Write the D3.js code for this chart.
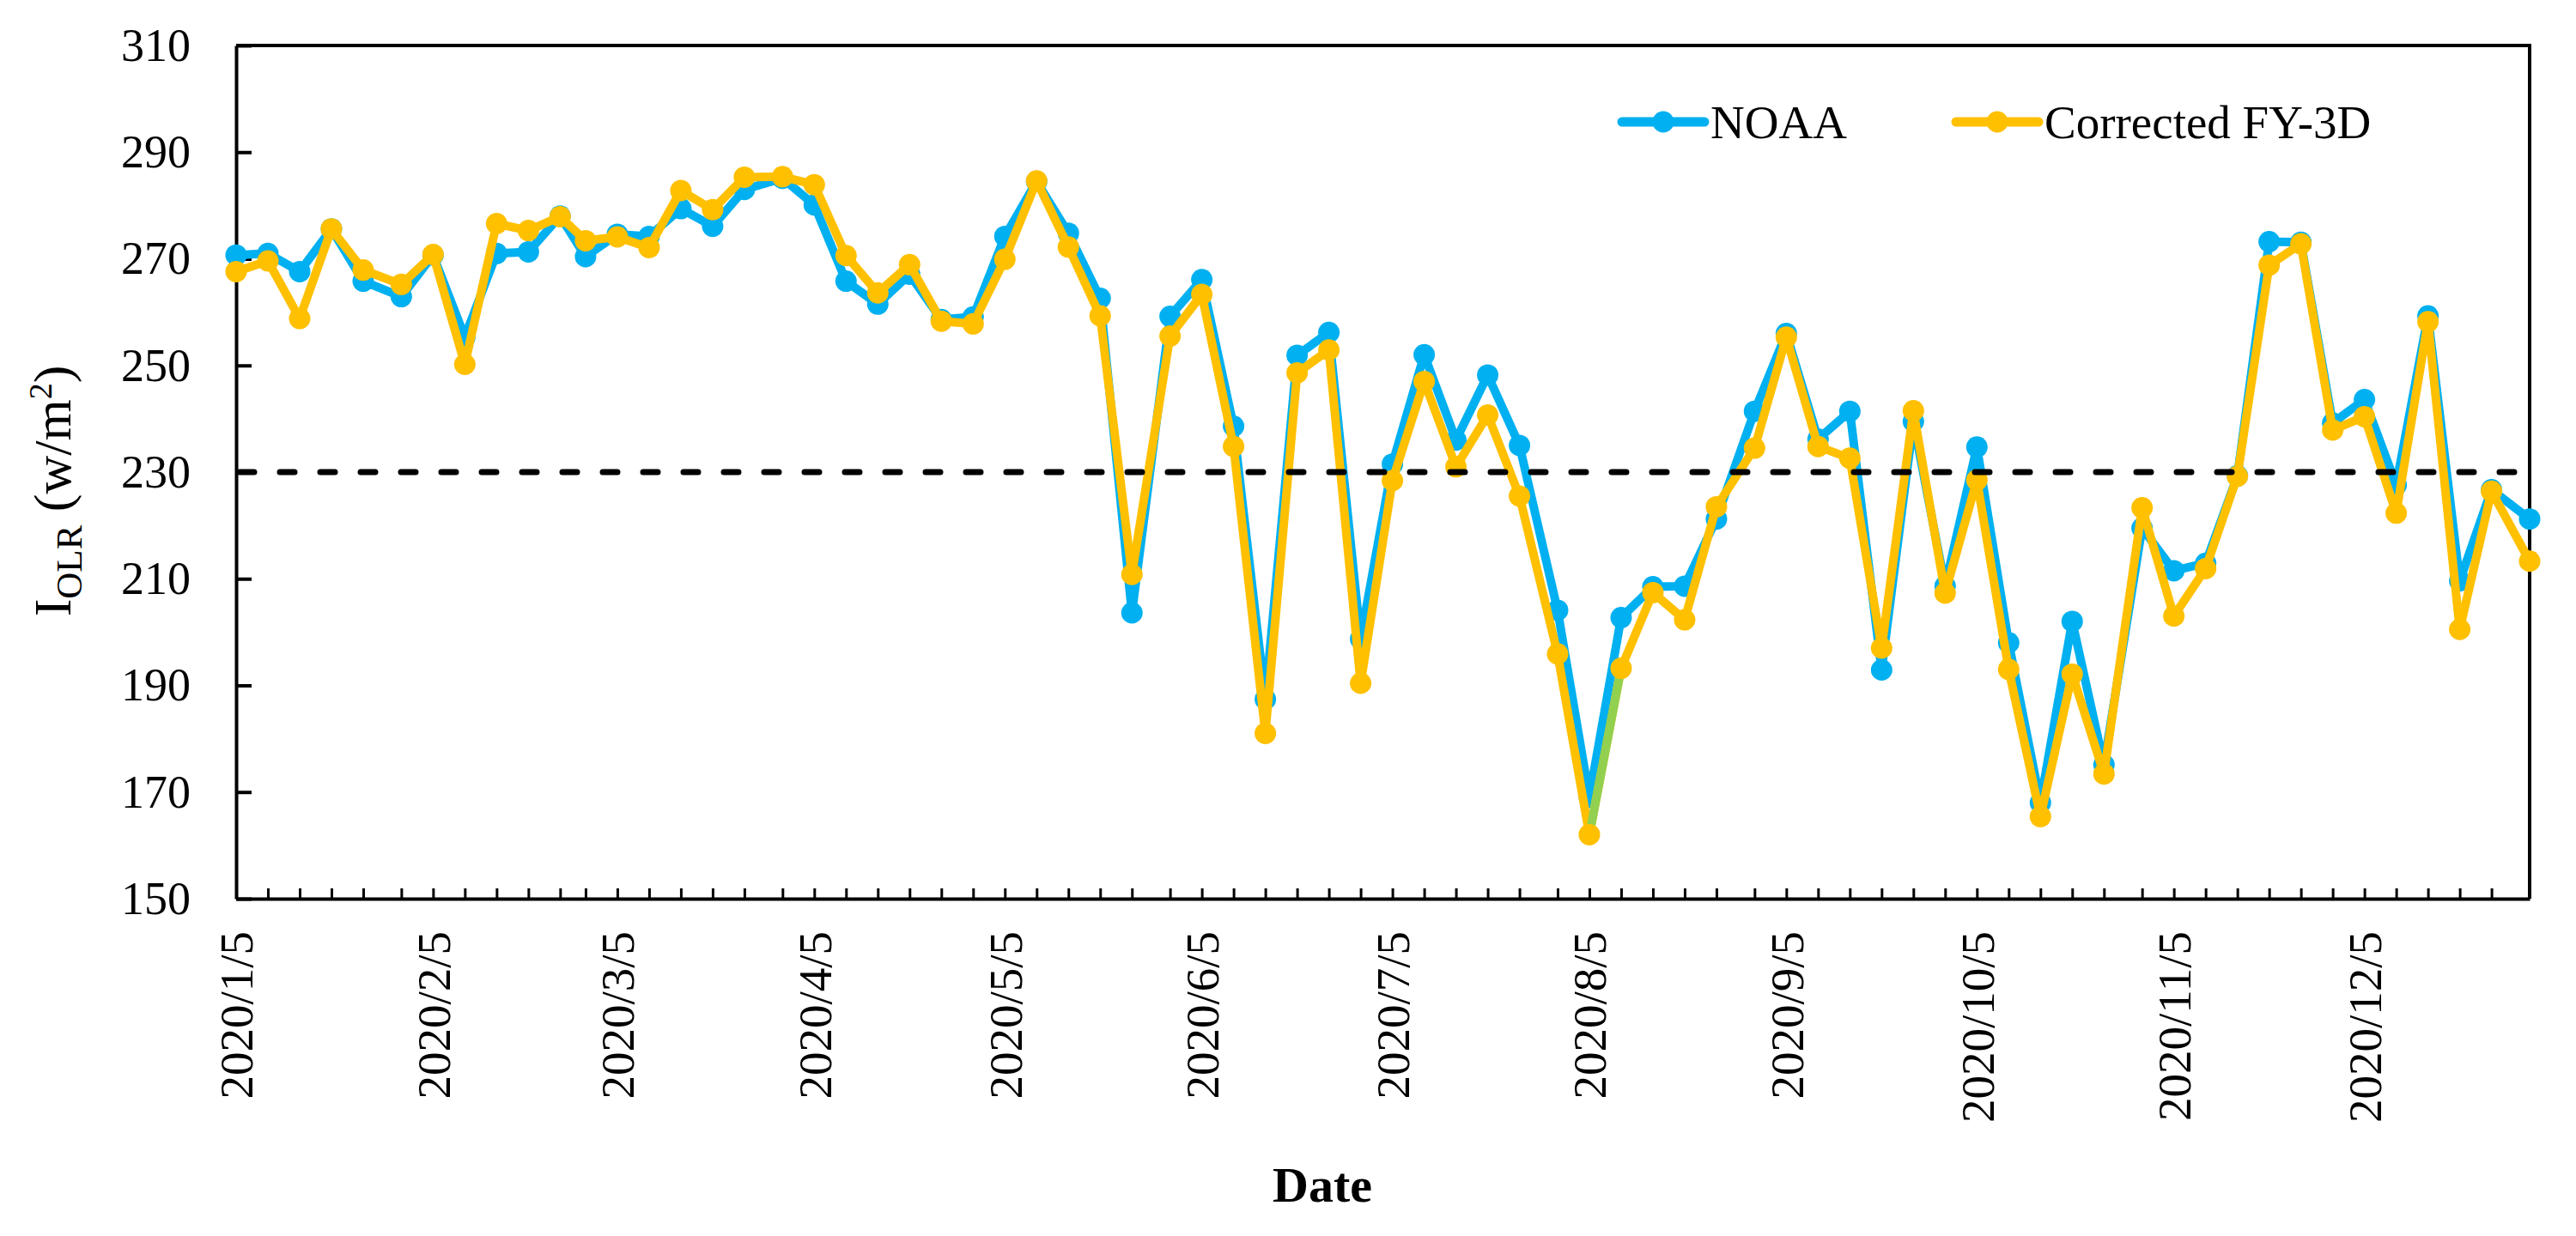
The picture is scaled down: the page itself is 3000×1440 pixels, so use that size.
<!DOCTYPE html>
<html>
<head>
<meta charset="utf-8">
<script src="https://cdn.jsdelivr.net/npm/d3@7"></script>
<style>
  body { margin: 0; background: #fff; }
  svg { display: block; font-family: "Liberation Serif", "Times New Roman", serif; }
</style>
</head>
<body>
<svg id="chart" width="3000" height="1440"></svg>
<script>
// pentad dates (6 per month)
const dates = [
  "2020/1/5","2020/1/10","2020/1/15","2020/1/20","2020/1/25","2020/1/31",
  "2020/2/5","2020/2/10","2020/2/15","2020/2/20","2020/2/25","2020/2/29",
  "2020/3/5","2020/3/10","2020/3/15","2020/3/20","2020/3/25","2020/3/31",
  "2020/4/5","2020/4/10","2020/4/15","2020/4/20","2020/4/25","2020/4/30",
  "2020/5/5","2020/5/10","2020/5/15","2020/5/20","2020/5/25","2020/5/31",
  "2020/6/5","2020/6/10","2020/6/15","2020/6/20","2020/6/25","2020/6/30",
  "2020/7/5","2020/7/10","2020/7/15","2020/7/20","2020/7/25","2020/7/31",
  "2020/8/5","2020/8/10","2020/8/15","2020/8/20","2020/8/25","2020/8/31",
  "2020/9/5","2020/9/10","2020/9/15","2020/9/20","2020/9/25","2020/9/30",
  "2020/10/5","2020/10/10","2020/10/15","2020/10/20","2020/10/25","2020/10/31",
  "2020/11/5","2020/11/10","2020/11/15","2020/11/20","2020/11/25","2020/11/30",
  "2020/12/5","2020/12/10","2020/12/15","2020/12/20","2020/12/25","2020/12/31"
];

const noaa = [
  270.7, 271.0, 267.6, 275.6, 265.8, 262.9, 270.7, 255.3, 271.0, 271.3, 278.0, 270.4,
  274.6, 274.2, 279.4, 276.1, 283.0, 285.1, 280.1, 265.8, 261.5, 267.1, 258.6, 259.1,
  274.2, 284.5, 274.8, 262.6, 203.6, 259.2, 266.1, 238.6, 187.4, 251.9, 256.2, 198.7,
  231.5, 252.0, 236.0, 248.2, 235.0, 204.1, 169.0, 202.7, 208.5, 208.6, 221.2, 241.4,
  256.0, 236.2, 241.4, 192.9, 239.5, 208.6, 234.7, 198.0, 168.0, 202.0, 175.1, 219.5,
  211.5, 212.9, 229.3, 273.2, 273.1, 239.2, 243.6, 227.6, 259.3, 209.6, 226.7, 221.2
];

const fy3d = [
  267.6, 269.6, 258.8, 275.6, 267.9, 265.2, 270.8, 250.2, 276.6, 275.3, 277.9, 273.4,
  274.1, 272.1, 282.8, 279.2, 285.3, 285.4, 283.9, 270.6, 263.6, 268.9, 258.3, 257.8,
  269.9, 284.6, 272.2, 259.3, 210.8, 255.5, 263.3, 234.8, 181.0, 248.6, 252.9, 190.4,
  228.4, 247.0, 231.0, 240.7, 225.5, 195.9, 162.0, 193.2, 207.4, 202.3, 223.5, 234.5,
  255.3, 234.8, 232.6, 197.0, 241.5, 207.3, 228.5, 193.0, 165.4, 192.1, 173.4, 223.3,
  203.0, 211.9, 229.2, 268.8, 272.8, 237.9, 240.4, 222.3, 258.2, 200.5, 226.4, 213.3
];

const xTickLabels = [
  "2020/1/5","2020/2/5","2020/3/5","2020/4/5","2020/5/5","2020/6/5",
  "2020/7/5","2020/8/5","2020/9/5","2020/10/5","2020/11/5","2020/12/5"
];
const yTicks = [150, 170, 190, 210, 230, 250, 270, 290, 310];
const threshold = 230;
const seriesNames = ["NOAA", "Corrected FY-3D"];
const seriesColors = ["#00B0F0", "#FFC000"];

const parse = d3.timeParse("%Y/%m/%d");
const fmt = d3.timeFormat("%Y/%-m/%-d");

const plotLeft = 275, plotRight = 2946, plotTop = 53, plotBottom = 1047;

const svg = d3.select('#chart');

const x = d3.scaleTime()
    .domain([parse(dates[0]), parse(dates[dates.length - 1])])
    .range([plotLeft, plotRight]);

const y = d3.scaleLinear()
    .domain([150, 310])
    .range([plotBottom, plotTop]);

const rows = dates.map((d, i) => ({ date: parse(d), noaa: noaa[i], fy: fy3d[i] }));

// frame (top + right)
svg.append('path')
    .attr('d', `M${plotLeft},${plotTop}H${plotRight}V${plotBottom}`)
    .attr('fill', 'none')
    .attr('stroke', '#000')
    .attr('stroke-width', 4);

// y axis
let yAxis = svg.append('g')
    .attr('transform', `translate(${plotLeft},0)`)
    .call(d3.axisLeft(y).tickValues(yTicks).tickSizeInner(-18).tickSizeOuter(0).tickPadding(53));
yAxis.select('.domain').attr('stroke-width', 4);
yAxis.selectAll('.tick line').attr('stroke-width', 4);
yAxis.selectAll('text')
    .attr('font-size', 54)
    .attr('font-family', '"Liberation Serif", serif')
    .attr('fill', '#000');

// x axis: small ticks at each pentad
let xAxis = svg.append('g')
    .attr('transform', `translate(0,${plotBottom})`)
    .call(d3.axisBottom(x).tickValues(rows.map(d => d.date)).tickSizeInner(-12).tickSizeOuter(0).tickFormat(''));
xAxis.select('.domain').attr('stroke-width', 4);
xAxis.selectAll('.tick line').attr('stroke-width', 3);

// x tick labels, rotated
svg.append('g')
    .selectAll('text')
    .data(xTickLabels)
    .enter()
    .append('text')
    .attr('transform', (d) => `translate(${x(parse(d))},${plotBottom + 38}) rotate(-90)`)
    .attr('dy', '0.35em')
    .attr('text-anchor', 'end')
    .attr('font-size', 55)
    .text((d) => fmt(parse(d)));

// series
const lineNoaa = d3.line().x(d => x(d.date)).y(d => y(d.noaa));
const lineFy = d3.line().x(d => x(d.date)).y(d => y(d.fy));

svg.append('path')
    .datum(rows)
    .attr('d', lineNoaa)
    .attr('fill', 'none')
    .attr('stroke', seriesColors[0])
    .attr('stroke-width', 10)
    .attr('stroke-linejoin', 'round');

svg.append('g')
    .selectAll('circle')
    .data(rows)
    .enter()
    .append('circle')
    .attr('cx', d => x(d.date))
    .attr('cy', d => y(d.noaa))
    .attr('r', 12.5)
    .attr('fill', seriesColors[0]);

svg.append('path')
    .datum(rows)
    .attr('d', lineFy)
    .attr('fill', 'none')
    .attr('stroke', seriesColors[1])
    .attr('stroke-width', 10)
    .attr('stroke-linejoin', 'round');

// one segment drawn green in the original figure (8/5 - 8/10)
svg.append('path')
    .datum(rows.slice(42, 44))
    .attr('d', lineFy)
    .attr('fill', 'none')
    .attr('stroke', '#92D050')
    .attr('stroke-width', 10);

svg.append('g')
    .selectAll('circle')
    .data(rows)
    .enter()
    .append('circle')
    .attr('cx', d => x(d.date))
    .attr('cy', d => y(d.fy))
    .attr('r', 12.5)
    .attr('fill', seriesColors[1]);

// threshold line
svg.append('line')
    .attr('x1', plotLeft + 4)
    .attr('x2', plotRight - 4)
    .attr('y1', y(threshold))
    .attr('y2', y(threshold))
    .attr('stroke', '#000')
    .attr('stroke-width', 7)
    .attr('stroke-linecap', 'round')
    .attr('stroke-dasharray', '17,30');

// legend
const legendX = [1889, 2278];
let legend = svg.append('g')
    .selectAll('g')
    .data(seriesNames)
    .enter()
    .append('g')
    .attr('transform', (d, i) => `translate(${legendX[i]},142)`);

legend.append('line')
    .attr('x1', 0)
    .attr('x2', 96)
    .attr('stroke', (d, i) => seriesColors[i])
    .attr('stroke-width', 11)
    .attr('stroke-linecap', 'round');

legend.append('circle')
    .attr('cx', 48)
    .attr('r', 12.5)
    .attr('fill', (d, i) => seriesColors[i]);

legend.append('text')
    .attr('x', 103)
    .attr('y', 19)
    .attr('font-size', 55)
    .text(d => d);

// axis titles
let yTitle = svg.append('text')
    .attr('transform', 'translate(82,572) rotate(-90)')
    .attr('text-anchor', 'middle')
    .attr('font-size', 62);
yTitle.append('tspan').text('I');
yTitle.append('tspan').attr('font-size', 43).attr('dy', 13).text('OLR');
yTitle.append('tspan').attr('dy', -13).text('\u00a0(w/m');
yTitle.append('tspan').attr('font-size', 38).attr('dy', -22).text('2');
yTitle.append('tspan').attr('dy', 22).text(')');

svg.append('text')
    .attr('x', 1540)
    .attr('y', 1400)
    .attr('text-anchor', 'middle')
    .attr('font-size', 58)
    .attr('font-weight', 'bold')
    .text('Date');
</script>
</body>
</html>
